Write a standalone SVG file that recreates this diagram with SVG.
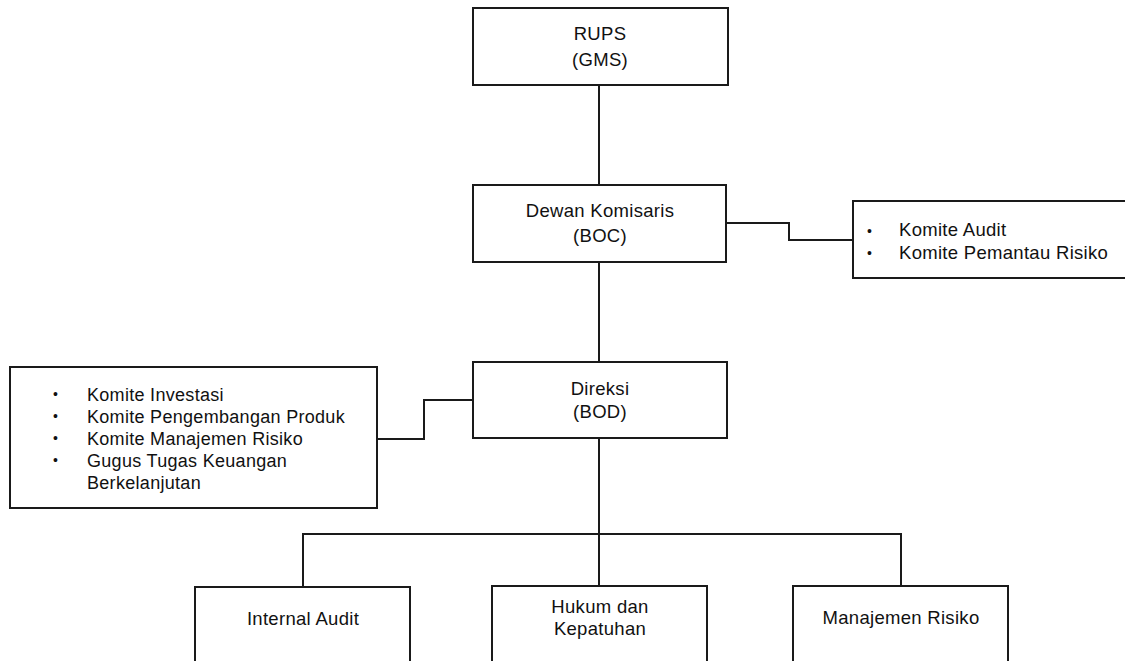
<svg xmlns="http://www.w3.org/2000/svg" width="1125" height="661" viewBox="0 0 1125 661">
<style>
.box{fill:#fff;stroke:#1a1a1a;stroke-width:2}
.ln{fill:none;stroke:#1a1a1a;stroke-width:2}
text{font-family:"Liberation Sans",Arial,sans-serif;font-size:18.5px;fill:#111;letter-spacing:0.3px}
.c{text-anchor:middle}
.s{font-size:18px}
.b{font-size:14px}
</style>
<rect width="1125" height="661" fill="#fff"/>
<g id="connectors">
<line class="ln" x1="599" y1="85" x2="599" y2="185"/>
<line class="ln" x1="599" y1="262" x2="599" y2="362"/>
<polyline class="ln" points="726,223 789,223 789,240 853,240"/>
<polyline class="ln" points="377,439 424,439 424,400 473,400"/>
<line class="ln" x1="599" y1="438" x2="599" y2="586"/>
<polyline class="ln" points="303,587 303,534 901,534 901,586"/>
</g>
<g id="rups">
<rect class="box" x="473" y="8" width="255" height="77"/>
<text class="c" x="600" y="39.5">RUPS</text>
<text class="c" x="600" y="65.5">(GMS)</text>
</g>
<g id="boc">
<rect class="box" x="473" y="185" width="253" height="77"/>
<text class="c" x="600" y="217">Dewan Komisaris</text>
<text class="c" x="600" y="241.5">(BOC)</text>
</g>
<g id="boc-committees">
<rect class="box" x="853" y="201" width="280" height="77"/>
<text class="b" x="867" y="236">•</text>
<text x="899" y="235.5">Komite Audit</text>
<text class="b" x="867" y="258">•</text>
<text x="899" y="259">Komite Pemantau Risiko</text>
</g>
<g id="bod">
<rect class="box" x="473" y="362" width="254" height="76"/>
<text class="c" x="600" y="395">Direksi</text>
<text class="c" x="600" y="418.3">(BOD)</text>
</g>
<g id="bod-committees">
<rect class="box" x="10" y="367" width="367" height="141"/>
<text class="b" x="53" y="399">•</text>
<text class="s" x="87" y="401">Komite Investasi</text>
<text class="b" x="53" y="421">•</text>
<text class="s" x="87" y="423">Komite Pengembangan Produk</text>
<text class="b" x="53" y="443">•</text>
<text class="s" x="87" y="445">Komite Manajemen Risiko</text>
<text class="b" x="53" y="465">•</text>
<text class="s" x="87" y="467">Gugus Tugas Keuangan</text>
<text class="s" x="87" y="489">Berkelanjutan</text>
</g>
<g id="internal-audit">
<rect class="box" x="195" y="587" width="215" height="90"/>
<text class="c" x="303" y="625">Internal Audit</text>
</g>
<g id="hukum">
<rect class="box" x="492" y="586" width="215" height="90"/>
<text class="c" x="600" y="613">Hukum dan</text>
<text class="c" x="600" y="635">Kepatuhan</text>
</g>
<g id="manajemen-risiko">
<rect class="box" x="793" y="586" width="215" height="90"/>
<text class="c" x="901" y="624.3">Manajemen Risiko</text>
</g>
</svg>
